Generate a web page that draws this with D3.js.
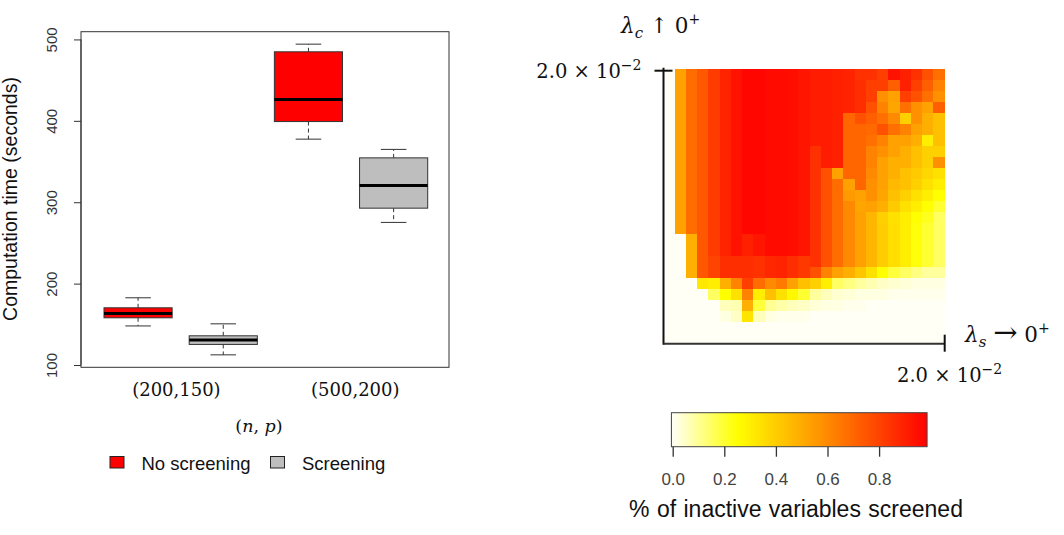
<!DOCTYPE html>
<html>
<head>
<meta charset="utf-8">
<script src="https://cdn.jsdelivr.net/npm/d3@7"></script>
<style>
  body { margin: 0; background: #fff; }
  svg { display: block; }
</style>
</head>
<body>
<svg id="chart" width="1064" height="535"></svg>
<script>
// ---- boxplot data (order: (200,150) no scr, (200,150) scr, (500,200) no scr, (500,200) scr)
const groupLabels = ["(200,150)", "(500,200)"];
const groupPos = [1.45, 3.55];
const methods = ["No screening", "Screening"];
const methodColors = ["#ff0000", "#bebebe"];
const boxMethod = [0, 1, 0, 1];
const whiskerLow = [148, 112.5, 377.5, 275.2];
const quart1 = [158, 125.3, 399.1, 292.7];
const medians = [163.4, 130.6, 426.3, 320.6];
const quart3 = [170.3, 135.9, 484.8, 354.5];
const whiskerHigh = [182.6, 150.6, 494.2, 364.9];
const yTicks = [100, 200, 300, 400, 500];

// ---- heatmap data: share of inactive variables screened
// rows: top (lambda_c = 2e-2) to bottom, columns: left to right (lambda_s up to 2e-2)
const screened = [
  [0,.53,.68,.74,.82,.89,.94,.97,.97,.96,.96,.95,.93,.91,.91,.90,.89,.85,.85,.81,.94,.90,.85,.76,.67],
  [0,.53,.68,.74,.82,.89,.94,.97,.97,.96,.96,.95,.93,.91,.91,.90,.89,.86,.81,.81,.72,.90,.81,.72,.62],
  [0,.53,.68,.74,.82,.89,.94,.97,.97,.96,.96,.95,.93,.91,.91,.90,.89,.86,.81,.58,.53,.81,.76,.67,.58],
  [0,.53,.68,.74,.82,.89,.94,.97,.97,.96,.96,.95,.93,.91,.91,.90,.89,.86,.76,.62,.52,.67,.58,.53,.72],
  [0,.53,.68,.74,.82,.89,.94,.97,.97,.96,.96,.95,.93,.91,.91,.90,.70,.76,.72,.67,.60,.39,.58,.49,.44],
  [0,.53,.68,.74,.82,.89,.94,.97,.97,.96,.96,.95,.93,.91,.91,.90,.70,.70,.69,.76,.67,.62,.53,.49,.44],
  [0,.53,.68,.74,.82,.89,.94,.97,.97,.96,.96,.95,.93,.91,.91,.90,.70,.70,.67,.62,.53,.53,.49,.30,.44],
  [0,.53,.68,.74,.82,.89,.94,.97,.97,.96,.96,.95,.93,.85,.91,.90,.70,.70,.62,.58,.53,.49,.44,.39,.39],
  [0,.53,.68,.74,.82,.89,.94,.97,.97,.96,.96,.95,.93,.85,.91,.90,.70,.70,.62,.53,.49,.49,.44,.39,.58],
  [0,.53,.68,.74,.82,.89,.94,.97,.97,.96,.96,.95,.93,.85,.76,.53,.70,.70,.60,.53,.49,.44,.41,.37,.34],
  [0,.53,.68,.74,.82,.89,.94,.97,.97,.96,.96,.95,.93,.85,.76,.68,.53,.70,.58,.53,.46,.44,.39,.34,.30],
  [0,.53,.68,.74,.82,.89,.94,.97,.97,.96,.96,.95,.93,.85,.76,.68,.55,.53,.58,.52,.44,.39,.34,.30,.25],
  [0,.53,.68,.74,.82,.89,.94,.97,.97,.96,.96,.95,.93,.85,.76,.68,.60,.52,.53,.49,.41,.34,.30,.25,.20],
  [0,.53,.68,.74,.82,.89,.94,.97,.97,.96,.96,.95,.93,.85,.76,.68,.60,.53,.47,.39,.34,.30,.25,.22,.15],
  [0,.53,.68,.74,.82,.89,.94,.97,.97,.96,.96,.95,.93,.85,.76,.68,.60,.53,.47,.40,.35,.30,.24,.20,.15],
  [0,0,.49,.74,.82,.89,.94,.90,.93,.96,.96,.95,.93,.85,.76,.68,.60,.53,.47,.40,.35,.30,.24,.20,.15],
  [0,0,.49,.74,.82,.89,.94,.90,.93,.96,.96,.95,.93,.85,.76,.68,.60,.53,.47,.40,.35,.30,.24,.20,.15],
  [0,0,.49,.74,.80,.86,.86,.86,.85,.88,.89,.86,.83,.85,.76,.68,.60,.53,.47,.40,.35,.30,.24,.20,.15],
  [0,0,.49,.74,.80,.86,.86,.86,.85,.88,.89,.86,.83,.76,.62,.53,.49,.42,.34,.25,.19,.15,.12,.09,.09],
  [0,0,0,.32,.30,.49,.62,.81,.68,.60,.64,.53,.44,.39,.30,.15,.12,.09,.07,.05,.04,.03,.02,.02,.02],
  [0,0,0,0,.15,.25,.34,.62,.30,.44,.34,.27,.20,.09,.06,.04,.03,.02,.02,.02,.01,.01,.01,.01,.01],
  [0,0,0,0,0,.06,.07,.49,.19,.10,.08,.06,.05,.03,.02,.02,.01,.01,0,0,0,0,0,0,0],
  [0,0,0,0,0,.02,.05,.33,.06,.02,.01,.01,.01,0,0,0,0,0,0,0,0,0,0,0,0],
  [0,0,0,0,0,0,0,0,0,0,0,0,0,0,0,0,0,0,0,0,0,0,0,0,0],
  [0,0,0,0,0,0,0,0,0,0,0,0,0,0,0,0,0,0,0,0,0,0,0,0,0]
];
const legendTicks = [0, 0.2, 0.4, 0.6, 0.8];
const legendMax = 0.986;

const svg = d3.select("#chart");
const sans = "'Liberation Sans', Arial, sans-serif";
const serif = "'DejaVu Serif', serif";

// ================= left panel: boxplot =================
{
  const plot = { left: 81, right: 449, top: 31.7, bottom: 367.3 };
  const x = d3.scaleLinear().domain([0.33, 4.65]).range([plot.left, plot.right]);
  const y = d3.scaleLinear().domain([97.2, 509.5]).range([plot.bottom, plot.top]);
  const g = svg.append("g");

  // y axis (R style, rotated labels)
  const yAxis = d3.axisLeft(y).tickValues(yTicks).tickSize(7).tickFormat(d3.format("d"));
  const ax = g.append("g").attr("transform", "translate(" + plot.left + ",0)").call(yAxis);
  ax.select(".domain").attr("stroke", "#333").attr("d", "M0," + y(100) + "V" + y(500));
  ax.selectAll(".tick line").attr("stroke", "#333");
  ax.selectAll(".tick text")
    .attr("x", null).attr("dy", null)
    .attr("transform", "translate(-24,0) rotate(-90)")
    .attr("text-anchor", "middle")
    .attr("font-family", sans).attr("font-size", 15).attr("fill", "#333");

  // boxes
  const boxes = g.selectAll("g.box").data(medians).enter()
    .append("g").attr("class", "box");
  const half = x(1.4) - x(1);
  const staple = x(1.15) - x(1);
  // whiskers (dashed)
  boxes.append("line")
    .attr("x1", (d, i) => x(i + 1)).attr("x2", (d, i) => x(i + 1))
    .attr("y1", (d, i) => y(quart3[i])).attr("y2", (d, i) => y(whiskerHigh[i]))
    .attr("stroke", "#333").attr("stroke-dasharray", "4,3");
  boxes.append("line")
    .attr("x1", (d, i) => x(i + 1)).attr("x2", (d, i) => x(i + 1))
    .attr("y1", (d, i) => y(quart1[i])).attr("y2", (d, i) => y(whiskerLow[i]))
    .attr("stroke", "#333").attr("stroke-dasharray", "4,3");
  // staples
  boxes.append("line")
    .attr("x1", (d, i) => x(i + 1) - staple).attr("x2", (d, i) => x(i + 1) + staple)
    .attr("y1", (d, i) => y(whiskerHigh[i])).attr("y2", (d, i) => y(whiskerHigh[i]))
    .attr("stroke", "#333");
  boxes.append("line")
    .attr("x1", (d, i) => x(i + 1) - staple).attr("x2", (d, i) => x(i + 1) + staple)
    .attr("y1", (d, i) => y(whiskerLow[i])).attr("y2", (d, i) => y(whiskerLow[i]))
    .attr("stroke", "#333");
  // box
  boxes.append("rect")
    .attr("x", (d, i) => x(i + 1) - half).attr("width", 2 * half)
    .attr("y", (d, i) => y(quart3[i]))
    .attr("height", (d, i) => y(quart1[i]) - y(quart3[i]))
    .attr("fill", (d, i) => methodColors[boxMethod[i]])
    .attr("stroke", "#333");
  // median
  boxes.append("line")
    .attr("x1", (d, i) => x(i + 1) - half).attr("x2", (d, i) => x(i + 1) + half)
    .attr("y1", d => y(d)).attr("y2", d => y(d))
    .attr("stroke", "#000").attr("stroke-width", 3);

  // frame
  g.append("rect")
    .attr("x", plot.left).attr("y", plot.top)
    .attr("width", plot.right - plot.left).attr("height", plot.bottom - plot.top)
    .attr("fill", "none").attr("stroke", "#333");

  // group labels
  g.selectAll("text.grp").data(groupLabels).enter()
    .append("text").attr("class", "grp")
    .attr("x", (d, i) => x(groupPos[i])).attr("y", 396)
    .attr("text-anchor", "middle")
    .attr("font-family", serif).attr("font-size", 18).attr("fill", "#111")
    .text(d => d);

  // x title (n, p)
  const xt = g.append("text").attr("x", 259).attr("y", 432)
    .attr("text-anchor", "middle").attr("font-family", serif)
    .attr("font-size", 17.5).attr("fill", "#111");
  xt.append("tspan").text("(");
  xt.append("tspan").attr("font-style", "italic").text("n");
  xt.append("tspan").text(", ");
  xt.append("tspan").attr("font-style", "italic").text("p");
  xt.append("tspan").text(")");

  // y title
  g.append("text")
    .attr("transform", "translate(17,199) rotate(-90)")
    .attr("text-anchor", "middle")
    .attr("font-family", sans).attr("font-size", 19.5).attr("fill", "#111")
    .text("Computation time (seconds)");

  // legend
  const legX = [110, 270.5];
  const leg = g.selectAll("g.leg").data(methods).enter()
    .append("g").attr("class", "leg");
  leg.append("rect")
    .attr("x", (d, i) => legX[i]).attr("y", 456.5)
    .attr("width", 14).attr("height", 11.5)
    .attr("fill", (d, i) => methodColors[i]).attr("stroke", "#222");
  leg.append("text")
    .attr("x", (d, i) => legX[i] + 31.5).attr("y", 469.5)
    .attr("font-family", sans).attr("font-size", 18.5).attr("fill", "#111")
    .text(d => d);
}

// ================= right panel: heatmap =================
{
  const n = screened.length;
  const xc = d3.scaleBand().domain(d3.range(n)).range([663.5, 944.7]);
  const yc = d3.scaleBand().domain(d3.range(n)).range([68.7, 343.7]);
  const colour = d3.scaleLinear()
    .domain([0, 0.25, 0.52, 0.99])
    .range(["#fffff6", "#ffff00", "#ffa500", "#ff0000"])
    .clamp(true);

  const g = svg.append("g");
  const cells = [];
  screened.forEach((row, r) => row.forEach((v, c) => cells.push({ r: r, c: c, v: v })));
  g.selectAll("rect.cell").data(cells).enter()
    .append("rect").attr("class", "cell")
    .attr("x", d => xc(d.c)).attr("y", d => yc(d.r))
    .attr("width", xc.bandwidth() + 0.6).attr("height", yc.bandwidth() + 0.6)
    .attr("shape-rendering", "crispEdges")
    .attr("fill", d => colour(d.v));

  // axes
  const x0 = xc.range()[0], x1 = xc.range()[1];
  const y0 = yc.range()[0], y1 = yc.range()[1];
  g.append("line").attr("x1", x0).attr("x2", x0).attr("y1", y0 - 1).attr("y2", y1 + 1)
    .attr("stroke", "#111").attr("stroke-width", 2);
  g.append("line").attr("x1", x0).attr("x2", x1).attr("y1", y1).attr("y2", y1)
    .attr("stroke", "#333").attr("stroke-width", 2);
  g.append("line").attr("x1", x0 - 9).attr("x2", x0 + 9).attr("y1", y0 + 2).attr("y2", y0 + 2)
    .attr("stroke", "#111").attr("stroke-width", 2);
  g.append("line").attr("x1", x1).attr("x2", x1).attr("y1", y1 - 9).attr("y2", y1 + 8)
    .attr("stroke", "#111").attr("stroke-width", 2);

  // math labels
  function power(sel, x, yb, anchor) {
    const t = sel.append("text").attr("x", x).attr("y", yb)
      .attr("text-anchor", anchor)
      .attr("font-family", serif).attr("font-size", 19.5).attr("fill", "#111");
    t.append("tspan").text("2.0 × 10");
    t.append("tspan").attr("dy", -8.5).attr("font-size", 14).text("−2");
    return t;
  }
  power(g, 641.5, 78, "end");
  power(g, 897, 382, "start");

  function lambda(sel, x, yb, sub, arrow, arrowSize) {
    const t = sel.append("text").attr("x", x).attr("y", yb)
      .attr("font-family", serif).attr("font-size", 21.5).attr("fill", "#111");
    t.append("tspan").attr("font-style", "italic").text("λ");
    t.append("tspan").attr("font-style", "italic").attr("font-size", 15).attr("dy", 5).text(sub);
    t.append("tspan").attr("dy", -5).text(" ");
    t.append("tspan").attr("font-size", arrowSize).text(arrow);
    t.append("tspan").text(" 0");
    t.append("tspan").attr("font-size", 14).attr("dy", -9).text("+");
    return t;
  }
  lambda(g, 621, 33, "c", "↑", 21.5);
  lambda(g, 965, 342, "s", "→", 29);

  // colour bar
  const xl = d3.scaleLinear().domain([0, 1]).range([672.7, 930.7]);
  const grad = svg.append("defs").append("linearGradient").attr("id", "heatgrad");
  d3.range(0, 1.0001, 0.02).forEach(t => {
    grad.append("stop").attr("offset", t).attr("stop-color", colour(-0.005 + t * (legendMax + 0.005)));
  });
  const barTop = 412.7, barBottom = 446.7;
  g.append("rect")
    .attr("x", xl(-0.005)).attr("y", barTop)
    .attr("width", xl(legendMax) - xl(-0.005)).attr("height", barBottom - barTop)
    .attr("fill", "url(#heatgrad)").attr("stroke", "#444");
  const lAxis = d3.axisBottom(xl).tickValues(legendTicks).tickSize(10).tickPadding(16)
    .tickFormat(d3.format(".1f"));
  const la = g.append("g").attr("transform", "translate(0," + barBottom + ")").call(lAxis);
  la.select(".domain").remove();
  la.selectAll(".tick line").attr("stroke", "#333").attr("stroke-width", 1.3);
  la.selectAll(".tick text")
    .attr("font-family", sans).attr("font-size", 17).attr("fill", "#444");

  g.append("text").attr("x", 796).attr("y", 517)
    .attr("text-anchor", "middle")
    .attr("font-family", sans).attr("font-size", 23).attr("word-spacing", 1).attr("fill", "#111")
    .text("% of inactive variables screened");
}
</script>
</body>
</html>
